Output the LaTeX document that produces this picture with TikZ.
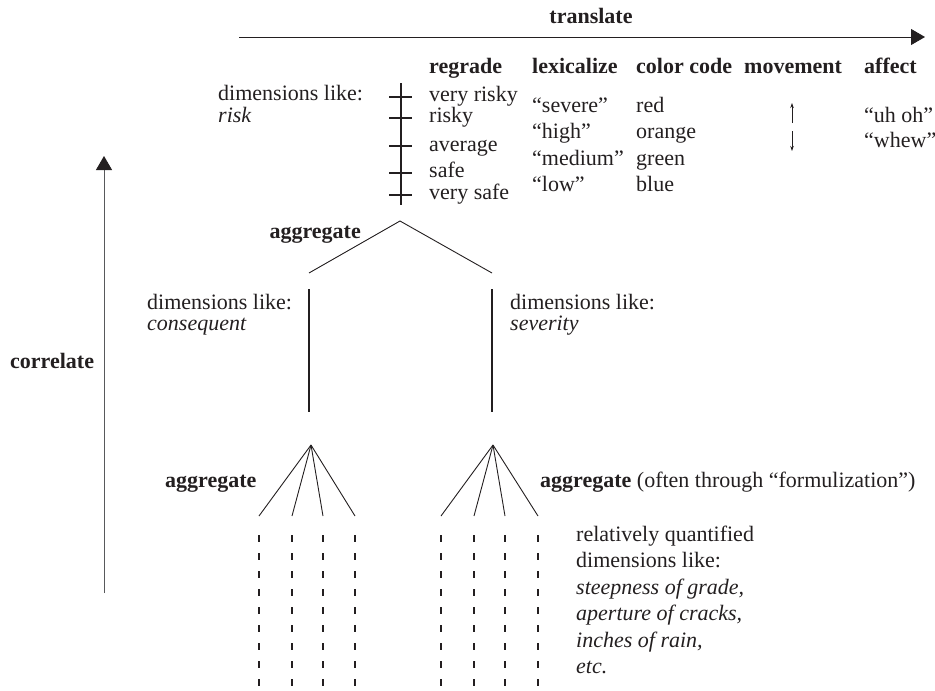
\documentclass[tikz,border=0pt]{standalone}
\usepackage{fontspec}
\setmainfont{Liberation Serif}
\usepackage{xcolor}
\definecolor{cInk}{HTML}{231F20}
\definecolor{cGray}{HTML}{58595B}
\usepackage{tikz}
\usetikzlibrary{arrows.meta}
\tikzset{
  txt/.style={anchor=base west,inner sep=0pt,text=cInk,
    font=\fontsize{22}{22}\selectfont},
  txt-head/.style={txt,font=\fontsize{22}{22}\selectfont\bfseries},
  line-thin/.style={draw=cInk,line width=0.9pt},
  line-thick/.style={draw=cInk,line width=2pt},
  line-tick/.style={draw=cInk,line width=1.2pt},
  % gestrichelte Linien fuer die quantifizierten Dimensionen
  line-dash/.style={draw=cInk,line width=1.8pt,dash pattern=on 7pt off 11pt},
  arrow-big/.style={-{Triangle[length=14pt,width=16pt,color=cInk]},line width=0.9pt,draw=cInk},
  arrow-small/.style={-{Stealth[length=5pt,width=3.5pt]},line width=0.8pt,draw=cInk},
}

\begin{document}
\begin{tikzpicture}[x=1pt,y=-1pt]
  \useasboundingbox (0,0) rectangle (935,691);
  % translate / correlate
  \node[txt-head,anchor=base] (translate) at (591,23) {translate};
  \coordinate (tr-start) at (239,37);
  \coordinate (tr-end) at (925,37);
  \draw[arrow-big] (tr-start) -- (tr-end);
  \node[txt-head] (correlate) at (10,368) {correlate};
  \coordinate (co-start) at (104,593);
  \coordinate (co-end) at (104,156);
  \draw[arrow-big,draw=cGray] (co-start) -- (co-end);

  \foreach \name/\x/\txt in {regrade/429/regrade, lexicalize/532/lexicalize,
      colorcode/636/color code, movement/744/movement, affect/864/affect}
    \node[txt-head] (head-\name) at (\x,73) {\txt};

  % risk scale
  \node[txt] (risk-1) at (218,100) {dimensions like:};
  \node[txt] (risk-2) at (218,122) {\textit{risk}};
  \draw[line-thick] (401,83) -- (401,205);
  \foreach \y in {97,118,146,173,195}
    \draw[line-tick] (389,\y) -- (412,\y);
  \foreach \txt/\y [count=\i] in {very risky/101, risky/122, average/151,
      safe/177, very safe/199}
    \node[txt] (grade-\i) at (429,\y) {\txt};
  \foreach \txt/\clr/\y [count=\i] in {``severe''/red/112, ``high''/orange/138,
      ``medium''/green/165, ``low''/blue/191} {
    \node[txt] (lex-\i) at (532,\y) {\txt};
    \node[txt] (clr-\i) at (636,\y) {\clr};
  }
  \draw[arrow-small] (792,123) -- (792,103);
  \draw[arrow-small] (792,131) -- (792,151);
  \node[txt] (affect-1) at (864,122) {``uh oh''};
  \node[txt] (affect-2) at (864,147) {``whew''};

  % first aggregate
  \node[txt-head,anchor=base east] (agg-top) at (361,238) {aggregate};
  \coordinate (apex-top) at (400,221);
  \coordinate (conseq-top) at (309,273);
  \coordinate (sever-top) at (492,273);
  \draw[line-thin] (conseq-top) -- (apex-top) -- (sever-top);
  \draw[line-thick] (309,289) -- (309,412);
  \draw[line-thick] (492,289) -- (492,412);
  \node[txt] (conseq-1) at (147,309) {dimensions like:};
  \node[txt] (conseq-2) at (147,330) {\textit{consequent}};
  \node[txt] (sever-1) at (510,309) {dimensions like:};
  \node[txt] (sever-2) at (510,330) {\textit{severity}};

  % lower aggregates
  \foreach \side/\ax/\xa/\xb/\xc/\xd in {left/311/259/292/323/355,
      right/493/441/474/505/538} {
    \coordinate (apex-\side) at (\ax,445);
    \foreach \x [count=\j] in {\xa,\xb,\xc,\xd} {
      \coordinate (fan-\side-\j) at (\x,516);
      \draw[line-thin] (apex-\side) -- (fan-\side-\j);
      \draw[line-dash] (\x,535) -- (\x,691);
    }
  }
  \node[txt-head] (agg-left) at (165,487) {aggregate};
  \node[txt] (agg-right) at (540,487)
    {\textbf{aggregate} (often through ``formulization'')};
  \foreach \txt/\y [count=\i] in {relatively quantified/541, dimensions like:/567,
      {\textit{steepness of grade,}}/594, {\textit{aperture of cracks,}}/620,
      {\textit{inches of rain,}}/647, {\textit{etc.}}/673}
    \node[txt] (quant-\i) at (576,\y) {\txt};
\end{tikzpicture}
\end{document}
